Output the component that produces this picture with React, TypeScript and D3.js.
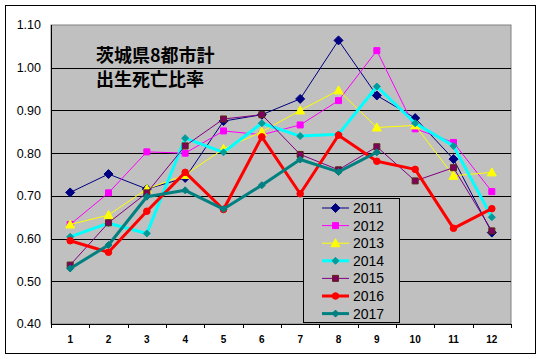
import * as d3 from "d3";

const months = [1, 2, 3, 4, 5, 6, 7, 8, 9, 10, 11, 12];
const yTicks = [0.4, 0.5, 0.6, 0.7, 0.8, 0.9, 1.0, 1.1];

const s2011 = [0.708, 0.751, 0.716, 0.742, 0.875, 0.89, 0.927, 1.064, 0.935, 0.882, 0.786, 0.614];
const s2012 = [0.633, 0.707, 0.803, 0.8, 0.852, 0.843, 0.866, 0.923, 1.04, 0.857, 0.825, 0.71];
const s2013 = [0.633, 0.655, 0.716, 0.749, 0.81, 0.85, 0.9, 0.947, 0.86, 0.865, 0.747, 0.755];
const s2014 = [0.604, 0.636, 0.612, 0.835, 0.802, 0.87, 0.84, 0.844, 0.956, 0.87, 0.817, 0.65];
const s2015 = [0.538, 0.637, 0.707, 0.817, 0.88, 0.89, 0.797, 0.761, 0.815, 0.735, 0.766, 0.618];
const s2016 = [0.595, 0.568, 0.664, 0.755, 0.668, 0.838, 0.705, 0.842, 0.781, 0.762, 0.624, 0.67];
const s2017 = [0.53, 0.585, 0.698, 0.713, 0.669, 0.725, 0.785, 0.756, 0.802];

type Marker = "diamond" | "square" | "triangle" | "circle" | "smallDiamond";

interface Series {
  name: string;
  values: number[];
  color: string;
  width: number;
  marker: Marker;
  markerFill: string;
  markerStroke: string;
}

const series: Series[] = [
  { name: "2011", values: s2011, color: "#000080", width: 1, marker: "diamond", markerFill: "#000080", markerStroke: "#000080" },
  { name: "2012", values: s2012, color: "#ff00ff", width: 1, marker: "square", markerFill: "#ff00ff", markerStroke: "#ff00ff" },
  { name: "2013", values: s2013, color: "#ffff00", width: 1, marker: "triangle", markerFill: "#ffff00", markerStroke: "#ffff00" },
  { name: "2014", values: s2014, color: "#00ffff", width: 3, marker: "smallDiamond", markerFill: "#009c9c", markerStroke: "#009c9c" },
  { name: "2015", values: s2015, color: "#800080", width: 1, marker: "square", markerFill: "#800060", markerStroke: "#5a2a10" },
  { name: "2016", values: s2016, color: "#ff0000", width: 3, marker: "circle", markerFill: "#ff0000", markerStroke: "#ff0000" },
  { name: "2017", values: s2017, color: "#008080", width: 3, marker: "smallDiamond", markerFill: "#008080", markerStroke: "#008080" },
];

const W = 542;
const H = 359;
const plot = { left: 51, top: 25, right: 511, bottom: 324 };

const x = d3
  .scaleBand<number>()
  .domain(months)
  .range([plot.left, plot.right])
  .paddingInner(0)
  .paddingOuter(0);
const y = d3.scaleLinear().domain([0.4, 1.1]).range([plot.bottom, plot.top]);
const cx = (m: number) => (x(m) ?? 0) + x.bandwidth() / 2;

function markerPath(kind: Marker): string {
  switch (kind) {
    case "diamond":
      return "M0,-4.5L4.5,0L0,4.5L-4.5,0Z";
    case "smallDiamond":
      return "M0,-3.5L3.5,0L0,3.5L-3.5,0Z";
    case "square":
      return "M-3,-3H3V3H-3Z";
    case "triangle":
      return "M0,-4.5L4.5,3.5H-4.5Z";
    case "circle":
      return d3.symbol(d3.symbolCircle, 34)() ?? "";
  }
}

const App = () => {
  const line = d3
    .line<number>()
    .x((_, i) => cx(months[i]))
    .y((v) => y(v));

  const boundaries = d3.range(months.length + 1).map((i) => plot.left + i * x.bandwidth());
  const legend = { x: 303, y: 198, w: 96, h: 124 };

  return (
    <svg width={W} height={H} style={{ position: "absolute", left: 0, top: 0 }}>
      <rect x={0} y={0} width={W} height={H} fill="#fff" />
      <rect x={5.5} y={5.5} width={530} height={348} fill="#fff" stroke="#000" strokeWidth={1} />
      <rect
        x={plot.left}
        y={plot.top}
        width={plot.right - plot.left}
        height={plot.bottom - plot.top}
        fill="#c0c0c0"
        stroke="#808080"
        strokeWidth={1}
      />
      {yTicks.slice(1, -1).map((t) => (
        <line key={t} x1={plot.left} x2={plot.right} y1={Math.round(y(t)) + 0.5} y2={Math.round(y(t)) + 0.5} stroke="#000" />
      ))}
      <line x1={plot.left + 0.5} x2={plot.left + 0.5} y1={plot.top} y2={plot.bottom} stroke="#000" />
      <line x1={plot.left} x2={plot.right} y1={plot.bottom + 0.5} y2={plot.bottom + 0.5} stroke="#000" />
      {boundaries.map((b, i) => (
        <line key={i} x1={Math.round(b) + 0.5} x2={Math.round(b) + 0.5} y1={plot.bottom} y2={plot.bottom + 4} stroke="#000" />
      ))}
      {yTicks.map((t) => (
        <text
          key={t}
          x={41}
          y={y(t)}
          dy="0.35em"
          textAnchor="end"
          fontFamily="Liberation Sans, Arial, sans-serif"
          fontSize={12.5}
          fill="#000"
        >
          {t.toFixed(2)}
        </text>
      ))}
      {months.map((m) => (
        <text
          key={m}
          x={cx(m)}
          y={343}
          textAnchor="middle"
          fontFamily="Liberation Sans, Arial, sans-serif"
          fontSize={10}
          fontWeight="bold"
          fill="#000"
        >
          {m}
        </text>
      ))}
      <g fontFamily="Noto Sans CJK JP, sans-serif" fontSize={18} fontWeight="bold" fill="#000">
        <text x={96} y={62}>茨城県8都市計</text>
        <text x={96} y={86}>出生死亡比率</text>
      </g>
      {series.map((s) => (
        <g key={s.name}>
          <path d={line(s.values) ?? ""} fill="none" stroke={s.color} strokeWidth={s.width} strokeLinejoin="round" />
          {s.values.map((v, i) => (
            <path
              key={i}
              d={markerPath(s.marker)}
              transform={`translate(${cx(months[i])},${y(v)})`}
              fill={s.markerFill}
              stroke={s.markerStroke}
              strokeWidth={1}
            />
          ))}
        </g>
      ))}
      <rect x={legend.x + 0.5} y={legend.y + 0.5} width={legend.w} height={legend.h} fill="#c0c0c0" stroke="#000" />
      {series.map((s, i) => {
        const ly = 208 + i * 17.6;
        return (
          <g key={s.name}>
            <line x1={322} x2={349} y1={ly} y2={ly} stroke={s.color} strokeWidth={s.width} />
            <path
              d={markerPath(s.marker)}
              transform={`translate(335.5,${ly})`}
              fill={s.markerFill}
              stroke={s.markerStroke}
            />
            <text
              x={353}
              y={ly}
              dy="0.36em"
              fontFamily="Liberation Sans, Arial, sans-serif"
              fontSize={14}
              fill="#000"
            >
              {s.name}
            </text>
          </g>
        );
      })}
    </svg>
  );
};

export default App;
